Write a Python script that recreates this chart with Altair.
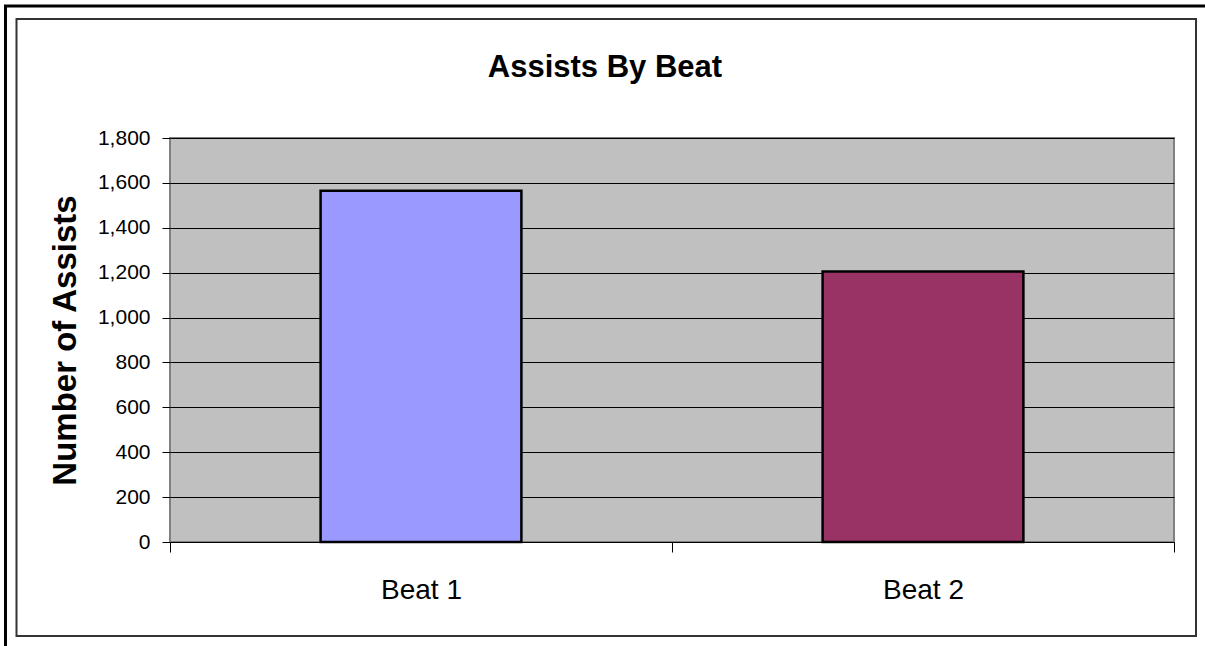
import altair as alt
import pandas as pd

beats = ["Beat 1", "Beat 2"]
assists = [1565, 1205]
bar_colors = ["#9999FF", "#993366"]
y_ticks = [0, 200, 400, 600, 800, 1000, 1200, 1400, 1600, 1800]
chart_title = "Assists By Beat"
y_title = "Number of Assists"

df = pd.DataFrame({"beat": beats, "assists": assists})

FONT = "Liberation Sans"
W, H = 1004, 404

bars = alt.Chart(df).mark_bar(
    width=alt.RelativeBandSize(0.4), stroke="black", strokeWidth=2.5
).encode(
    x=alt.X("beat:N", sort=beats,
            scale=alt.Scale(paddingInner=0, paddingOuter=0),
            axis=alt.Axis(title=None, labelAngle=0, tickBand="extent",
                          labelFont=FONT, labelFontSize=28, labelColor="black",
                          labelBaseline="alphabetic", labelPadding=46,
                          tickSize=10, tickColor="black", domainColor="black",
                          grid=False)),
    y=alt.Y("assists:Q", scale=alt.Scale(domain=[0, 1800], nice=False),
            axis=alt.Axis(title=y_title, values=y_ticks, format=",d",
                          labelFont=FONT, labelFontSize=21, labelColor="black",
                          labelPadding=12, tickSize=8, tickColor="black",
                          domain=False,
                          gridColor="black", gridWidth=1, gridOpacity=1,
                          titleFont=FONT, titleFontSize=33, titleFontWeight="bold",
                          titleColor="black", titleX=-95, titleY=H / 2,
                          titleBaseline="alphabetic", titleAngle=-90,
                          titleAlign="center")),
    color=alt.Color("beat:N", scale=alt.Scale(domain=beats, range=bar_colors), legend=None),
)

one = alt.Data(values=[{"k": 1}])

outer = alt.Chart(one).mark_rect(fill=None, stroke="black", strokeWidth=3).encode(
    x=alt.value(5.5 - 170), x2=alt.value(1260 - 170),
    y=alt.value(6 - 138), y2=alt.value(700 - 138),
)
inner = alt.Chart(one).mark_rect(fill=None, stroke="#333333", strokeWidth=2).encode(
    x=alt.value(16.5 - 170), x2=alt.value(1196 - 170),
    y=alt.value(19 - 138), y2=alt.value(636 - 138),
)
title = alt.Chart(one).mark_text(
    text=chart_title, font=FONT, fontSize=31, fontWeight="bold",
    align="center", baseline="alphabetic", color="black"
).encode(x=alt.value(605 - 170), y=alt.value(77 - 138))

chart = alt.layer(outer, inner, title, bars).properties(
    width=W, height=H,
    autosize=alt.AutoSizeParams(type="none"),
    padding={"left": 170, "top": 138, "right": 31, "bottom": 104},
    background="white",
).configure_view(
    fill="#C0C0C0", stroke="#808080", strokeWidth=2
)

chart.save("out.html", embed_options={"renderer": "svg", "actions": False})
